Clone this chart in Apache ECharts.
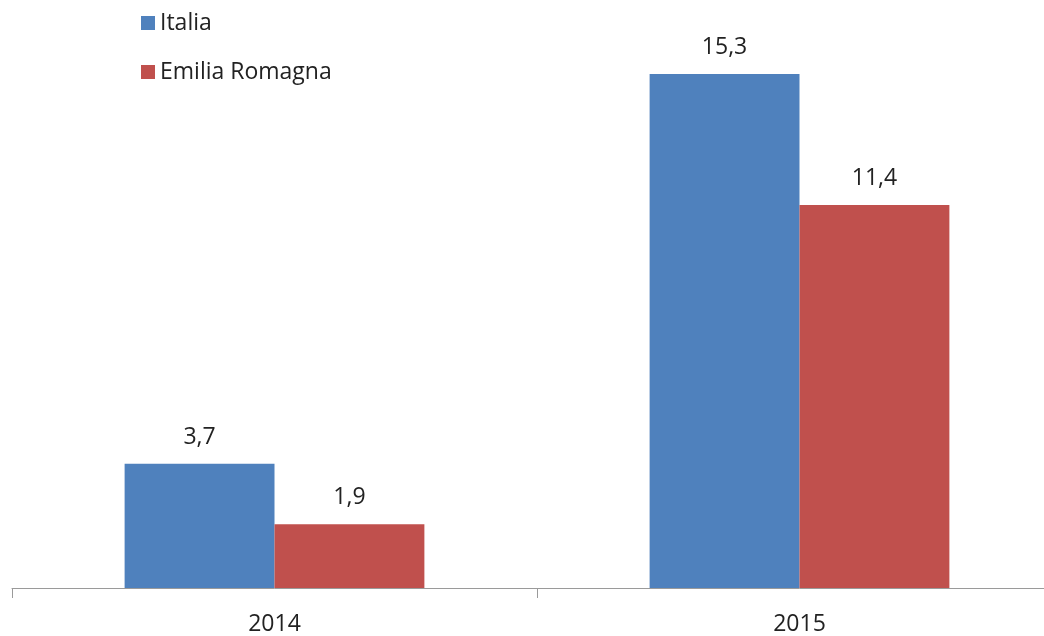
<!DOCTYPE html>
<html>
<head>
<meta charset="utf-8">
<script src="https://cdn.jsdelivr.net/npm/echarts@6/dist/echarts.min.js"></script>
<style>
  html, body { margin: 0; padding: 0; background: #fff; overflow: hidden; }
  /* the category axis runs past the right edge of the picture */
  #chart { width: 1062px; height: 636px; }
</style>
</head>
<body>
<div id="chart"></div>
<script>
const years = ['2014', '2015']
const italia = [3.7, 15.3]
const emiliaRomagna = [1.9, 11.4]

const chart = echarts.init(document.getElementById('chart'))

// etichette con la virgola decimale
const labelFmt = (p) => String(p.value).replace('.', ',')

const option = {
  textStyle: { fontFamily: 'Open Sans' },
  legend: {
    orient: 'vertical',
    left: 136,
    top: 6,
    itemWidth: 14,
    itemHeight: 14,
    itemGap: 25,
    icon: 'rect',
    textStyle: { fontSize: 23, color: '#222', lineHeight: 24, padding: [0, 0, 0, 0] },
    data: ['Italia', 'Emilia Romagna']
  },
  grid: { left: 12, top: 0, right: 0, bottom: 46 },
  xAxis: {
    type: 'category',
    data: years,
    axisLine: { lineStyle: { color: '#9a9a9a', width: 1 } },
    axisTick: { show: true, length: 10, lineStyle: { color: '#9a9a9a' } },
    axisLabel: { fontSize: 23, color: '#222', margin: 25 }
  },
  yAxis: {
    type: 'value',
    min: 0,
    max: 17.5,
    show: false,
    splitLine: { show: false }
  },
  series: [
    {
      name: 'Italia',
      type: 'bar',
      data: italia,
      barGap: 0,
      barCategoryGap: '42.9%',
      itemStyle: { color: '#4F81BD' },
      label: { show: true, position: 'top', distance: 15, fontSize: 23, color: '#222', formatter: labelFmt }
    },
    {
      name: 'Emilia Romagna',
      type: 'bar',
      data: emiliaRomagna,
      itemStyle: { color: '#C0504D' },
      label: { show: true, position: 'top', distance: 15, fontSize: 23, color: '#222', formatter: labelFmt }
    }
  ]
}
chart.setOption(option)
</script>
</body>
</html>
